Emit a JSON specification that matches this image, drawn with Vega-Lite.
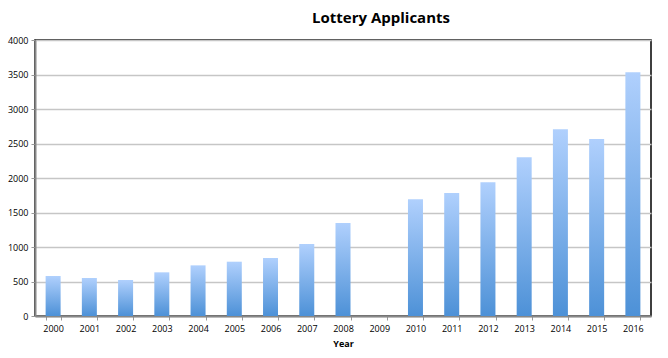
{
  "$schema": "https://vega.github.io/schema/vega-lite/v6.json",
  "width": 616,
  "height": 276,
  "autosize": {"type": "none"},
  "padding": {"left": 35, "top": 40, "right": 17, "bottom": 42},
  "background": "white",
  "title": {
    "text": "Lottery Applicants",
    "font": "Open Sans",
    "fontSize": 15,
    "fontWeight": "bold",
    "color": "black",
    "anchor": "middle",
    "dx": 38,
    "offset": 10
  },
  "view": {"stroke": "black", "strokeWidth": 1.5},
  "data": {
    "values": [
      {"Year": "2000", "Applicants": 580},
      {"Year": "2001", "Applicants": 551},
      {"Year": "2002", "Applicants": 522},
      {"Year": "2003", "Applicants": 633},
      {"Year": "2004", "Applicants": 734},
      {"Year": "2005", "Applicants": 787},
      {"Year": "2006", "Applicants": 841},
      {"Year": "2007", "Applicants": 1043},
      {"Year": "2008", "Applicants": 1348},
      {"Year": "2009", "Applicants": 0},
      {"Year": "2010", "Applicants": 1691},
      {"Year": "2011", "Applicants": 1783},
      {"Year": "2012", "Applicants": 1937},
      {"Year": "2013", "Applicants": 2300},
      {"Year": "2014", "Applicants": 2705},
      {"Year": "2015", "Applicants": 2565},
      {"Year": "2016", "Applicants": 3531}
    ]
  },
  "mark": {
    "type": "bar",
    "size": 15,
    "color": {
      "gradient": "linear",
      "x1": 0, "y1": 0, "x2": 0, "y2": 1,
      "stops": [
        {"offset": 0, "color": "#b0d0fd"},
        {"offset": 1, "color": "#4d91d7"}
      ]
    }
  },
  "encoding": {
    "x": {
      "field": "Year",
      "type": "ordinal",
      "scale": {"paddingInner": 0.58, "paddingOuter": 0.29},
      "axis": {
        "title": "Year",
        "titleFont": "Open Sans",
        "titleFontSize": 9,
        "titleFontWeight": "bold",
        "titleColor": "black",
        "titlePadding": 6,
        "labelAngle": 0,
        "labelFont": "Open Sans",
        "labelFontSize": 9,
        "labelColor": "black",
        "labelPadding": 4,
        "tickBand": "extent",
        "tickColor": "#999999",
        "tickSize": 4,
        "domainColor": "#888888",
        "domainWidth": 2
      }
    },
    "y": {
      "field": "Applicants",
      "type": "quantitative",
      "scale": {"domain": [0, 4000]},
      "axis": {
        "title": null,
        "format": "d",
        "values": [0, 500, 1000, 1500, 2000, 2500, 3000, 3500, 4000],
        "labelFont": "Open Sans",
        "labelFontSize": 9,
        "labelColor": "black",
        "labelPadding": 3,
        "tickColor": "#999999",
        "tickSize": 4,
        "domainColor": "#888888",
        "domainWidth": 2,
        "gridColor": "#c6c6c6",
        "gridWidth": 1.5
      }
    }
  }
}
